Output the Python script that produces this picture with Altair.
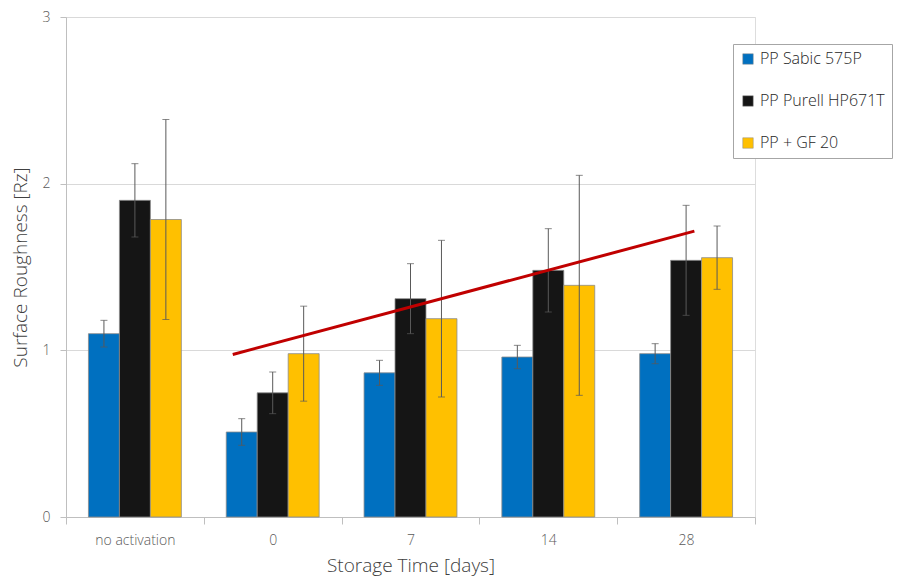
import altair as alt
import pandas as pd

categories = ["no activation", "0", "7", "14", "28"]
series = ["PP Sabic 575P", "PP Purell HP671T", "PP + GF 20"]
colors = ["#0070C0", "#151515", "#FFC000"]

sabic = [1.10, 0.51, 0.865, 0.96, 0.98]
sabic_err = [0.08, 0.08, 0.075, 0.07, 0.06]
purell = [1.90, 0.745, 1.31, 1.48, 1.54]
purell_err = [0.22, 0.125, 0.21, 0.25, 0.33]
gf = [1.785, 0.98, 1.19, 1.39, 1.556]
gf_err = [0.60, 0.285, 0.47, 0.66, 0.19]

trend_x = [1.21, 4.56]
trend_y = [0.975, 1.715]

rows = []
for s, vals, errs in zip(series, [sabic, purell, gf], [sabic_err, purell_err, gf_err]):
    for c, v, e in zip(categories, vals, errs):
        rows.append({"cat": c, "series": s, "value": v, "lo": v - e, "hi": v + e})
df = pd.DataFrame(rows)
trend = pd.DataFrame({"x": trend_x, "y": trend_y})

FONT = "Open Sans"
YTITLE = "Surface Roughness [Rz]"

x_enc = alt.X("cat:N", sort=categories, title="Storage Time [days]",
              scale=alt.Scale(paddingInner=0, paddingOuter=0),
              axis=alt.Axis(tickBand="extent", labelAngle=0, labelFontSize=14,
                            labelFontWeight=300,
                            labelColor="#595959", labelPadding=9, tickSize=7,
                            tickColor="#bfbfbf", domainColor="#bfbfbf",
                            titleFontSize=19, titleColor="#404040",
                            titleFontWeight=300, titlePadding=9))
xo = alt.XOffset("series:N", sort=series,
                 scale=alt.Scale(paddingInner=0, paddingOuter=0.725))
y_scale = alt.Scale(domain=[0, 3], nice=False)
y_axis = alt.Axis(values=[0, 1, 2, 3], format="d", labelFontSize=14,
                  labelFontWeight=300,
                  labelColor="#595959", labelPadding=10, tickSize=6,
                  tickColor="#bfbfbf", domainColor="#bfbfbf",
                  gridColor="#d9d9d9", titleFontSize=19,
                  titleColor="#404040", titleFontWeight=300,
                  titlePadding=12)

bars = alt.Chart(df).mark_bar(stroke="#8c8c8c", strokeWidth=0.8).encode(
    x=x_enc,
    xOffset=xo,
    y=alt.Y("value:Q", scale=y_scale, title=YTITLE, axis=y_axis),
    color=alt.Color("series:N", sort=series,
                    scale=alt.Scale(domain=series, range=colors),
                    legend=alt.Legend(title=None, orient="none", legendX=667,
                                      legendY=27, symbolType="square",
                                      symbolSize=110, symbolStrokeColor="#8c8c8c",
                                      symbolStrokeWidth=0.5, labelOffset=4,
                                      labelFontSize=16, labelFontWeight=300,
                                      labelColor="#262626",
                                      rowPadding=26, padding=7,
                                      strokeColor="#a6a6a6", fillColor="white",
                                      labelLimit=300)),
)

rules = alt.Chart(df).mark_rule(color="#595959", strokeWidth=1).encode(
    x=alt.X("cat:N", sort=categories), xOffset=xo,
    y=alt.Y("lo:Q", scale=y_scale, title=YTITLE), y2="hi:Q")
cap_hi = alt.Chart(df).mark_tick(color="#595959", size=7, thickness=1,
                                 orient="horizontal").encode(
    x=alt.X("cat:N", sort=categories), xOffset=xo,
    y=alt.Y("hi:Q", scale=y_scale, title=YTITLE))
cap_lo = alt.Chart(df).mark_tick(color="#595959", size=7, thickness=1,
                                 orient="horizontal").encode(
    x=alt.X("cat:N", sort=categories), xOffset=xo,
    y=alt.Y("lo:Q", scale=y_scale, title=YTITLE))

base = alt.layer(bars, rules, cap_hi, cap_lo)

line = alt.Chart(trend).mark_line(color="#C00000", strokeWidth=3).encode(
    x=alt.X("x:Q", scale=alt.Scale(domain=[0, 5], nice=False, zero=False), axis=None),
    y=alt.Y("y:Q", scale=y_scale, title=YTITLE, axis=y_axis))

chart = alt.layer(base, line).resolve_scale(x="independent").properties(
    width=689, height=500,
    autosize=alt.AutoSizeParams(type="none"),
    padding={"left": 58, "top": 9, "right": 141, "bottom": 60},
).configure_view(strokeWidth=0).configure(font=FONT)

chart.save("out.html", embed_options={"renderer": "svg", "actions": False})
